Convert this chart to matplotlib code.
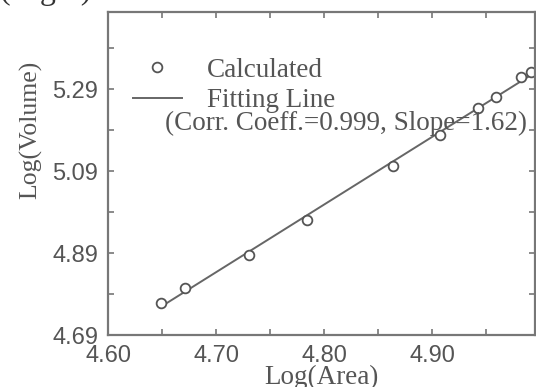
import numpy as np
import matplotlib
matplotlib.use("Agg")
import matplotlib.pyplot as plt
from matplotlib.lines import Line2D
from matplotlib.legend_handler import HandlerLine2D

# values
log_area = [4.649, 4.671, 4.730, 4.784, 4.864, 4.907, 4.942, 4.959, 4.982, 4.991]
log_volume = [4.769, 4.805, 4.885, 4.970, 5.102, 5.178, 5.244, 5.271, 5.319, 5.332]
x_ticks = [4.60, 4.70, 4.80, 4.90]
x_minor = [4.65, 4.75, 4.85, 4.95]
y_ticks = [4.69, 4.89, 5.09, 5.29]
y_minor = [4.79, 4.99, 5.19, 5.39]
fit_range = [4.648, 4.995]
note = "(Corr. Coeff.=0.999, Slope=1.62)"

SERIF = "Liberation Serif"
SANS = "Liberation Sans"
INK = "#555555"


class MarkerAtEnd(HandlerLine2D):
    # put the legend marker at the right end of the handle
    def get_xdata(self, legend, xdescent, ydescent, width, height, fontsize):
        xdata = np.array([-xdescent, -xdescent + width])
        return xdata, np.array([-xdescent + width])


fig = plt.figure(figsize=(5.36, 3.87), dpi=100)
ax = fig.add_axes([108 / 536, 52 / 387, 427 / 536, 323 / 387])

slope, icpt = np.polyfit(log_area, log_volume, 1)
fx = np.array(fit_range)
ax.plot(fx, slope * fx + icpt, color="#666666", lw=1.4)
ax.plot(log_area, log_volume, ls="none", marker="o", ms=7, mfc="white",
        mec="#555555", mew=1.3)

ax.set_xlim(4.60, 4.995)
ax.set_ylim(4.69, 5.478)
ax.set_xticks(x_ticks)
ax.set_xticklabels([f"{v:.2f}" for v in x_ticks])
ax.set_xticks(x_minor, minor=True)
ax.set_yticks(y_ticks)
ax.set_yticklabels([f"{v:.2f}" for v in y_ticks])
ax.set_yticks(y_minor, minor=True)

ax.tick_params(which="both", direction="in", top=True, right=True,
               length=4, width=1.2, color="#777777")
ax.tick_params(which="major", labelsize=17, labelcolor=INK, pad=7)
for lab in ax.get_xticklabels() + ax.get_yticklabels():
    lab.set_fontfamily(SANS)
for s in ax.spines.values():
    s.set_color("#777777")
    s.set_linewidth(1.6)

ax.set_xlabel("Log(Area)", fontfamily=SERIF, fontsize=19.5, color=INK, labelpad=-1.5)
ax.set_ylabel("Log(Volume)", fontfamily=SERIF, fontsize=18.5, color=INK)
ax.yaxis.set_label_coords(-0.155, 0.635)

handles = [
    Line2D([], [], ls="none", marker="o", ms=7, mfc="white", mec="#555555", mew=1.3),
    Line2D([], [], color="#666666", lw=1.4),
]
leg = ax.legend(handles, ["Calculated", "Fitting Line"], loc="upper left",
                bbox_to_anchor=(0.058, 0.858), frameon=False, borderpad=0,
                borderaxespad=0, handlelength=1.8, handletextpad=0.95,
                labelspacing=0.2,
                handler_map={handles[0]: MarkerAtEnd()},
                prop={"family": SERIF, "size": 19.5})
for t in leg.get_texts():
    t.set_color(INK)

ax.text(0.133, 0.655, note, transform=ax.transAxes, fontfamily=SERIF,
        fontsize=19.5, color=INK, va="center", ha="left")

# caption fragment cut off at the top of the picture
fig.text(0.0, 1 + 1 / 387, "(Right)", fontfamily=SERIF, fontsize=23,
         color="#333333", va="baseline", ha="left")

fig.savefig("out.png", dpi=100)
